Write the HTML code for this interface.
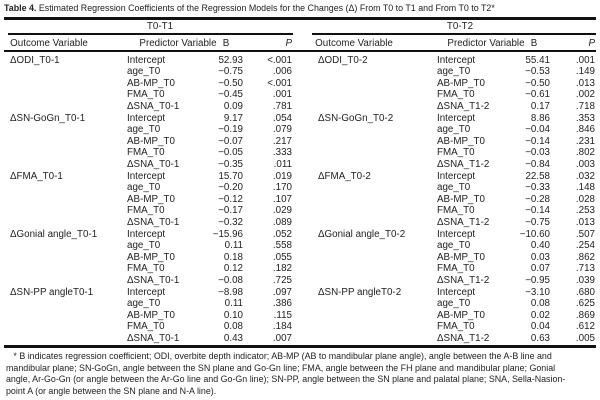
<!DOCTYPE html>
<html><head><meta charset="utf-8"><style>
body{margin:0;background:#fff;}
#t{position:relative;width:600px;height:400px;overflow:hidden;font-family:"Liberation Sans",sans-serif;font-size:9.8px;color:#222;}
#t div{position:absolute;white-space:nowrap;line-height:10px;}
.ln{background:#111;height:2px;}
</style></head><body>
<div id="t">
<div style="left:4px;top:3px;font-size:8.9px"><b>Table 4.</b> Estimated Regression Coefficients of the Regression Models for the Changes (Δ) From T0 to T1 and From T0 to T2*</div>
<div class="ln" style="left:4px;top:17px;width:592px;height:2.5px"></div>
<div style="left:120px;top:22px;width:80px;text-align:center">T0-T1</div>
<div style="left:420px;top:22px;width:80px;text-align:center">T0-T2</div>
<div class="ln" style="left:8px;top:33px;width:285px"></div>
<div class="ln" style="left:312px;top:33px;width:284px"></div>
<div class="ln" style="left:4px;top:50px;width:592px"></div>
<div class="ln" style="left:4px;top:345px;width:592px;height:2.5px"></div>
<div style="left:6px;top:351px;font-size:8.9px;line-height:11.6px">&nbsp;&nbsp;&nbsp;* B indicates regression coefficient; ODI, overbite depth indicator; AB-MP (AB to mandibular plane angle), angle between the A-B line and<br>mandibular plane; SN-GoGn, angle between the SN plane and Go-Gn line; FMA, angle between the FH plane and mandibular plane; Gonial<br>angle, Ar-Go-Gn (or angle between the Ar-Go line and Go-Gn line); SN-PP, angle between the SN plane and palatal plane; SNA, Sella-Nasion-<br>point A (or angle between the SN plane and N-A line).</div>
</div>
<script>
const outcomesL=["ΔODI_T0-1","ΔSN-GoGn_T0-1","ΔFMA_T0-1","ΔGonial angle_T0-1","ΔSN-PP angleT0-1"];
const outcomesR=["ΔODI_T0-2","ΔSN-GoGn_T0-2","ΔFMA_T0-2","ΔGonial angle_T0-2","ΔSN-PP angleT0-2"];
const predsL=["Intercept","age_T0","AB-MP_T0","FMA_T0","ΔSNA_T0-1"];
const predsR=["Intercept","age_T0","AB-MP_T0","FMA_T0","ΔSNA_T1-2"];
const bL=["52.93","−0.75","−0.50","−0.45","0.09","9.17","−0.19","−0.07","−0.05","−0.35","15.70","−0.20","−0.12","−0.17","−0.32","−15.96","0.11","0.18","0.12","−0.08","−8.98","0.11","0.10","0.08","0.43"];
const pL=["<.001",".006","<.001",".001",".781",".054",".079",".217",".333",".011",".019",".170",".107",".029",".089",".052",".558",".055",".182",".725",".097",".386",".115",".184",".007"];
const bR=["55.41","−0.53","−0.50","−0.61","0.17","8.86","−0.04","−0.14","−0.03","−0.84","22.58","−0.33","−0.28","−0.14","−0.75","−10.60","0.40","0.03","0.07","−0.95","−3.10","0.08","0.02","0.04","0.63"];
const pR=[".001",".149",".013",".002",".718",".353",".846",".231",".802",".003",".032",".148",".028",".253",".013",".507",".254",".862",".713",".039",".680",".625",".869",".612",".005"];
const t=document.getElementById('t');
function cell(txt,left,top,align,name,w){
  const d=document.createElement('div');
  
  
  d.textContent=txt;
  if(align==='r'){d.style.left=(left-w)+'px';d.style.width=w+'px';d.style.textAlign='right';}
  else if(align==='c'){d.style.left=(left-w/2)+'px';d.style.width=w+'px';d.style.textAlign='center';}
  else d.style.left=left+'px';
  d.style.top=top+'px';
  t.appendChild(d);return d;
}
const rowY=i=>55.5+i*11.6;
function side(x0,cols,outs,preds,bs,ps,tag){
  cell("Outcome Variable",x0+cols.oh,39,'c','header-outcome-'+tag,110);
  cell("Predictor Variable",x0+cols.ph,39,'c','header-predictor-'+tag,110);
  cell("B",x0+cols.bh,39,'c','header-b-'+tag,20);
  const p=cell("P",x0+cols.p,39,'r','header-p-'+tag,20);p.style.fontStyle='italic';
  for(let i=0;i<bs.length;i++){
    const y=rowY(i);
    if(i%5===0) cell(outs[i/5],x0+6,y,'l','outcome-'+tag,0);
    cell(preds[i%5],x0+cols.pr,y,'l','predictor-'+tag,0);
    cell(bs[i],x0+cols.b,y,'r','coef-b-'+tag,60);
    cell(ps[i],x0+cols.p,y,'r','p-value-'+tag,40);
  }
}
side(4,{oh:45,ph:174,bh:222,pr:123,b:239,p:288},outcomesL,predsL,bs=bL,pL,'t1');
side(312,{oh:42,ph:174,bh:222,pr:125,b:238,p:283},outcomesR,predsR,bR,pR,'t2');
</script>
</body></html>
